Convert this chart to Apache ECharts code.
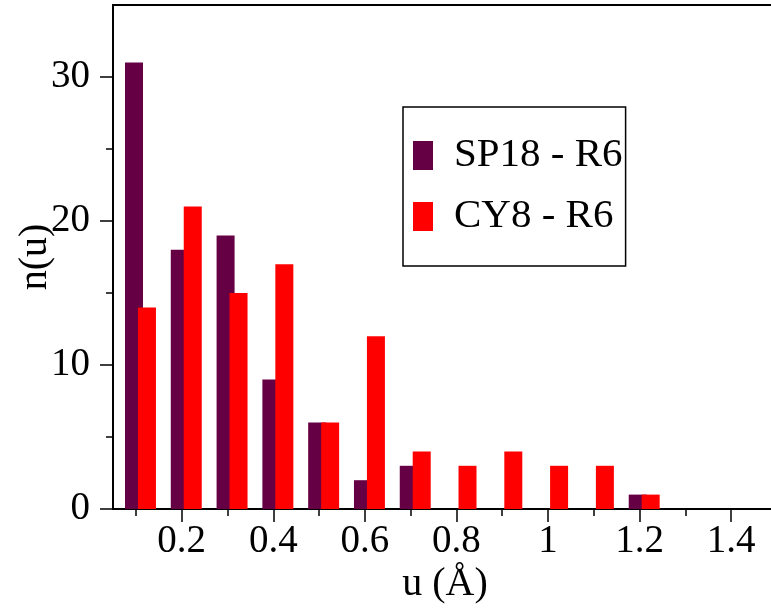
<!DOCTYPE html>
<html>
<head>
<meta charset="utf-8">
<script src="https://cdn.jsdelivr.net/npm/echarts@6/dist/echarts.min.js"></script>
<style>
  html, body { margin: 0; padding: 0; background: #fff; }
  #chart { width: 771px; height: 611px; }
</style>
</head>
<body>
<div id="chart"></div>
<script>
// bin centres (u, in Angstrom) and counts
var bins = [0.11, 0.21, 0.31, 0.41, 0.51, 0.61, 0.71, 0.81, 0.91, 1.01, 1.11, 1.21];
var sp18 = [31, 18, 19, 9, 6, 2, 3, 0, 0, 0, 0, 1];
var cy8 = [14, 21, 15, 17, 6, 12, 4, 3, 4, 3, 3, 1];
var xMajor = [0.2, 0.4, 0.6, 0.8, 1, 1.2, 1.4];
var xMinor = [0.1, 0.3, 0.5, 0.7, 0.9, 1.1, 1.3];
var yMajor = [0, 10, 20, 30];
var yMinor = [5, 15, 25];

var font = 'Liberation Serif';

function pairs(vals) {
  return bins.map(function (b, i) { return [b, vals[i]]; });
}

var chart = echarts.init(document.getElementById('chart'));
chart.setOption({
  animation: false,
  backgroundColor: '#fff',
  grid: {
    left: 113, top: 5, right: -6, bottom: 102,
    outerBoundsMode: 'none',
    show: true, borderColor: '#000', borderWidth: 2
  },
  legend: {
    orient: 'vertical',
    left: 403, top: 107,
    padding: [28, 3, 29, 10],
    itemGap: 20,
    itemWidth: 20, itemHeight: 29,
    icon: 'rect',
    backgroundColor: '#fff',
    borderColor: '#000',
    borderWidth: 1.5,
    textStyle: { fontFamily: font, fontSize: 41, color: '#000', padding: [0, 0, 0, 16] },
    data: ['SP18 - R6', 'CY8 - R6']
  },
  xAxis: [
    {
      type: 'value', min: 0.05, max: 1.5, position: 'bottom',
      name: 'u (Å)', nameLocation: 'middle', nameGap: 55, nameMoveOverlap: false,
      nameTextStyle: { fontFamily: font, fontSize: 40, color: '#000' },
      axisLine: { show: true, lineStyle: { color: '#000', width: 2 } },
      axisTick: { show: true, length: 13, customValues: xMajor, lineStyle: { color: '#000', width: 1.5 } },
      axisLabel: { customValues: xMajor, margin: 13, fontFamily: font, fontSize: 39, color: '#000' },
      splitLine: { show: false }
    },
    {
      type: 'value', min: 0.05, max: 1.5, position: 'bottom',
      axisLine: { show: false },
      axisTick: { show: true, length: 7, customValues: xMinor, lineStyle: { color: '#000', width: 1.5 } },
      axisLabel: { show: false },
      splitLine: { show: false }
    }
  ],
  yAxis: [
    {
      type: 'value', min: 0, max: 35, position: 'left',
      name: 'n(u)', nameLocation: 'middle', nameGap: 58, nameMoveOverlap: false,
      nameTextStyle: { fontFamily: font, fontSize: 40, color: '#000' },
      axisLine: { show: true, lineStyle: { color: '#000', width: 2 } },
      axisTick: { show: true, length: 13, customValues: yMajor, lineStyle: { color: '#000', width: 1.5 } },
      axisLabel: { customValues: yMajor, margin: 23, fontFamily: font, fontSize: 39, color: '#000' },
      splitLine: { show: false }
    },
    {
      type: 'value', min: 0, max: 35, position: 'left',
      axisLine: { show: false },
      axisTick: { show: true, length: 7, customValues: yMinor, lineStyle: { color: '#000', width: 1.5 } },
      axisLabel: { show: false },
      splitLine: { show: false }
    }
  ],
  series: [
    {
      name: 'SP18 - R6', type: 'bar', xAxisIndex: 0, yAxisIndex: 0,
      barWidth: 18, barGap: '-28%',
      itemStyle: { color: '#660044' },
      data: pairs(sp18)
    },
    {
      name: 'CY8 - R6', type: 'bar', xAxisIndex: 0, yAxisIndex: 0,
      barWidth: 18, barGap: '-28%',
      itemStyle: { color: '#ff0000' },
      data: pairs(cy8)
    }
  ]
});
</script>
</body>
</html>
